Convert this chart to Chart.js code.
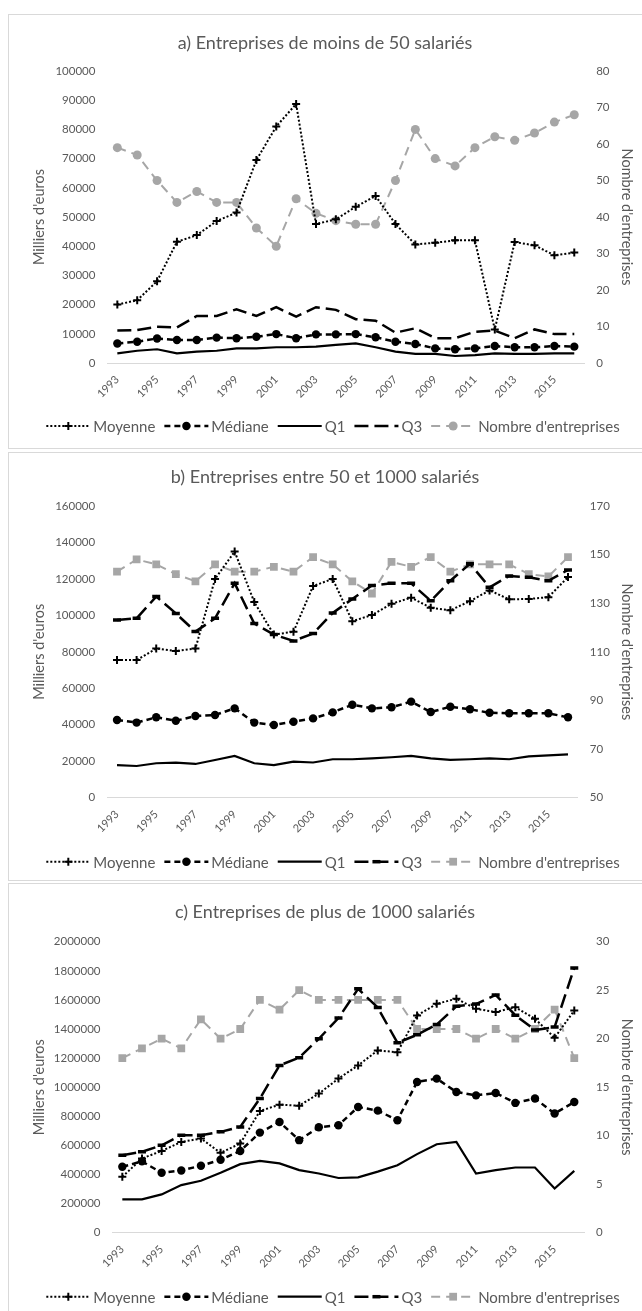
<!DOCTYPE html>
<html>
<head>
<meta charset="utf-8">
<script src="https://cdn.jsdelivr.net/npm/chart.js@4.4.1/dist/chart.umd.min.js"></script>
<style>
html,body{margin:0;padding:0;background:#fff;width:642px;height:1311px;overflow:hidden;position:relative;font-family:Lato,sans-serif}
.box{position:absolute;border:1px solid #d9d9d9;box-sizing:border-box;background:#fff}
canvas{position:absolute;display:block}
</style>
</head>
<body>
<div class="box" style="left:8px;top:14px;width:660px;height:435px"></div>
<div class="box" style="left:8px;top:452px;width:660px;height:429px"></div>
<div class="box" style="left:8px;top:883px;width:660px;height:440px"></div>
<canvas id="ca" width="632" height="433" style="left:9px;top:15px"></canvas>
<canvas id="cb" width="632" height="427" style="left:9px;top:453px"></canvas>
<canvas id="cc" width="632" height="433" style="left:9px;top:884px"></canvas>
<script>
// ---------- categories ----------
const years = ['1993','1994','1995','1996','1997','1998','1999','2000','2001','2002','2003','2004',
               '2005','2006','2007','2008','2009','2010','2011','2012','2013','2014','2015','2016'];
const seriesNames = ['Moyenne', 'Médiane', 'Q1', 'Q3', "Nombre d'entreprises"];
const titleA = 'a) Entreprises de moins de 50 salariés';
const titleB = 'b) Entreprises entre 50 et 1000 salariés';
const titleC = 'c) Entreprises de plus de 1000 salariés';
const leftAxisTitle = "Milliers d'euros";
const rightAxisTitle = "Nombre d'entreprises";

// ---------- a) < 50 salariés ----------
const moyA = [20000, 21500, 28000, 41500, 43800, 48600, 51500, 69500, 81000, 88700, 47600, 49200,
              53500, 57200, 47600, 40600, 41200, 42000, 42000, 11500, 41400, 40300, 36900, 37800];
const medA = [6700, 7300, 8400, 7900, 7900, 8700, 8500, 9000, 9900, 8500, 9800, 9800,
              9900, 8800, 7300, 6500, 5000, 4700, 5000, 5800, 5400, 5400, 5800, 5600];
const q1A  = [3300, 4200, 4700, 3300, 3900, 4200, 5000, 5000, 5400, 5400, 5600, 6200,
              6700, 5400, 3900, 3100, 3100, 2400, 2700, 3300, 3100, 3100, 3300, 3300];
const q3A  = [11100, 11300, 12400, 12200, 16100, 16100, 18400, 16100, 19100, 15900, 19100, 18200,
              15000, 14500, 10400, 11900, 8500, 8500, 10700, 11100, 8500, 11500, 9900, 9900];
const nbA  = [59, 57, 50, 44, 47, 44, 44, 37, 32, 45, 41, 39, 38, 38, 50, 64, 56, 54, 59, 62, 61, 63, 66, 68];
const yTicksA  = [0, 10000, 20000, 30000, 40000, 50000, 60000, 70000, 80000, 90000, 100000];
const y1TicksA = [0, 10, 20, 30, 40, 50, 60, 70, 80];

// ---------- b) 50 - 1000 salariés ----------
const moyB = [75500, 75500, 81800, 80500, 81800, 120000, 135000, 107300, 89500, 91000, 116100, 120000,
              96800, 100200, 106400, 109700, 104200, 102800, 107800, 113700, 108800, 109000, 110000, 121000];
const medB = [42600, 41200, 44100, 42200, 44800, 45400, 49000, 41200, 39900, 41700, 43500, 46800,
              51000, 49000, 49600, 52700, 47000, 49900, 48500, 46600, 46300, 46300, 46300, 44100];
const q1B  = [17900, 17400, 18900, 19200, 18500, 20700, 22900, 18900, 17900, 19800, 19300, 21100,
              21100, 21600, 22200, 22900, 21600, 20700, 21100, 21600, 21100, 22700, 23200, 23800];
const q3B  = [97500, 98400, 110300, 101100, 91100, 98400, 117600, 95500, 89500, 86000, 90000, 101300,
              109000, 116400, 117600, 117600, 108000, 119000, 128300, 115400, 121600, 120900, 119000, 124900];
const nbB  = [143, 148, 146, 142, 139, 146, 143, 143, 145, 143, 149, 146, 139, 134, 147, 145, 149, 143, 146, 146, 146, 142, 141, 149];
const yTicksB  = [0, 20000, 40000, 60000, 80000, 100000, 120000, 140000, 160000];
const y1TicksB = [50, 70, 90, 110, 130, 150, 170];

// ---------- c) > 1000 salariés ----------
const moyC = [384000, 510000, 562000, 624000, 647000, 549000, 613000, 836000, 880000, 873000, 956000, 1059000,
              1150000, 1253000, 1240000, 1493000, 1573000, 1608000, 1539000, 1516000, 1550000, 1470000, 1340000, 1527000];
const medC = [453000, 490000, 412000, 428000, 460000, 501000, 562000, 688000, 761000, 636000, 725000, 739000,
              864000, 839000, 773000, 1036000, 1059000, 967000, 944000, 960000, 892000, 922000, 819000, 898000];
const q1C  = [229000, 229000, 263000, 327000, 357000, 412000, 471000, 494000, 476000, 430000, 407000, 376000,
              380000, 420000, 464000, 540000, 608000, 624000, 407000, 430000, 448000, 448000, 304000, 425000];
const q3C  = [533000, 556000, 601000, 670000, 670000, 693000, 727000, 922000, 1150000, 1203000, 1333000, 1475000,
              1676000, 1547000, 1305000, 1360000, 1431000, 1556000, 1571000, 1634000, 1495000, 1393000, 1413000, 1820000];
const nbC  = [18, 19, 20, 19, 22, 20, 21, 24, 23, 25, 24, 24, 24, 24, 24, 21, 21, 21, 20, 21, 20, 21, 23, 18];
const yTicksC  = [0, 200000, 400000, 600000, 800000, 1000000, 1200000, 1400000, 1600000, 1800000, 2000000];
const y1TicksC = [0, 5, 10, 15, 20, 25, 30];

// ---------- styling ----------
const FONT = 'Lato';
const TXT = '#595959';
const GREY = '#a6a6a6';
Chart.defaults.font.family = FONT;
Chart.defaults.color = TXT;

function drawMarker(ctx, style, x, y, r, fill, stroke, bw) {
  ctx.save();
  ctx.fillStyle = fill; ctx.strokeStyle = stroke; ctx.lineWidth = bw || 1;
  ctx.setLineDash([]);
  ctx.beginPath();
  if (style === 'circle') { ctx.arc(x, y, r, 0, Math.PI * 2); ctx.fill(); }
  else if (style === 'rect') { const s = r * Math.SQRT1_2; ctx.rect(x - s, y - s, 2 * s, 2 * s); ctx.fill(); }
  else if (style === 'cross') { ctx.moveTo(x - r, y); ctx.lineTo(x + r, y); ctx.moveTo(x, y - r); ctx.lineTo(x, y + r); ctx.stroke(); }
  else if (style === 'line') { ctx.moveTo(x - r, y); ctx.lineTo(x + r, y); ctx.stroke(); }
  ctx.restore();
}

// legend drawn with a line sample + marker, like the spreadsheet legend
const lineLegend = {
  id: 'lineLegend',
  afterDraw(chart, args, o) {
    const ctx = chart.ctx;
    const ds = chart.data.datasets;
    ctx.save();
    ctx.font = o.fontSize + 'px ' + FONT;
    const widths = ds.map(d => ctx.measureText(d.label).width);
    const total = widths.reduce((a, w) => a + o.sample + o.gapText + w, 0) + o.gapItem * (ds.length - 1);
    let x = o.center - total / 2;
    const y = o.y;
    ds.forEach((d, i) => {
      ctx.save();
      ctx.strokeStyle = d.borderColor; ctx.lineWidth = d.borderWidth;
      ctx.setLineDash(d.borderDash || []);
      ctx.beginPath(); ctx.moveTo(x, y); ctx.lineTo(x + o.sample, y); ctx.stroke();
      ctx.restore();
      if (d.pointRadius > 0) drawMarker(ctx, d.pointStyle, x + o.sample / 2, y, d.pointRadius,
                                        d.pointBackgroundColor, d.pointBorderColor, d.pointBorderWidth);
      ctx.fillStyle = o.color; ctx.textBaseline = 'middle'; ctx.textAlign = 'left';
      ctx.fillText(d.label, x + o.sample + o.gapText, y + 1);
      x += o.sample + o.gapText + widths[i] + o.gapItem;
    });
    ctx.restore();
  }
};

function buildDatasets(moy, med, q1, q3, nb, p) {
  return [
    { label: seriesNames[0], data: moy, yAxisID: 'y', borderColor: '#000', borderWidth: 2, borderDash: [2, 2],
      pointStyle: 'cross', pointRadius: 4, pointBorderColor: '#000', pointBackgroundColor: '#000', pointBorderWidth: 2 },
    { label: seriesNames[1], data: med, yAxisID: 'y', borderColor: '#000', borderWidth: 2.5, borderDash: [6, 4],
      pointStyle: 'circle', pointRadius: 4.2, pointBorderColor: '#000', pointBackgroundColor: '#000', pointBorderWidth: 0 },
    { label: seriesNames[2], data: q1, yAxisID: 'y', borderColor: '#000', borderWidth: 2.2, borderDash: [],
      pointRadius: 0, pointStyle: 'circle', pointBorderColor: '#000', pointBackgroundColor: '#000', pointBorderWidth: 0 },
    { label: seriesNames[3], data: q3, yAxisID: 'y', borderColor: '#000', borderWidth: 2.5, borderDash: [14, 6],
      pointStyle: 'line', pointRadius: p.q3Marker ? 4 : 0, pointBorderColor: '#000', pointBackgroundColor: '#000', pointBorderWidth: 3.5 },
    { label: seriesNames[4], data: nb, yAxisID: 'y1', borderColor: GREY, borderWidth: 2, borderDash: [9, 6],
      pointStyle: p.nbStyle, pointRadius: p.nbRadius, pointBorderColor: GREY, pointBackgroundColor: GREY, pointBorderWidth: 0 }
  ];
}

function makePanel(id, title, dsets, yTicks, y1Ticks, p) {
  const tickFont = { family: FONT, size: 11.5 };
  new Chart(document.getElementById(id), {
    type: 'line',
    data: { labels: years, datasets: dsets },
    options: {
      responsive: false, animation: false, devicePixelRatio: 1,
      layout: { padding: { left: 0, right: 0, top: 0, bottom: p.padBottom } },
      elements: { line: { tension: 0, fill: false } },
      plugins: {
        legend: { display: false },
        tooltip: { enabled: false },
        title: { display: true, text: title, color: TXT,
                 font: { family: FONT, size: 18, weight: 'normal', lineHeight: 1.2 },
                 padding: { top: p.titleTop, bottom: p.titleBottom } },
        lineLegend: { y: p.legendY, center: 324, fontSize: 15, sample: 44, gapText: 3, gapItem: 9, color: TXT }
      },
      scales: {
        x: {
          type: 'category', offset: true,
          grid: { display: false, drawTicks: false },
          border: { display: true, color: '#d9d9d9', width: 1 },
          ticks: { autoSkip: false, maxRotation: 45, minRotation: 45, padding: 10, color: TXT, font: { family: FONT, size: 11 },
                   callback: function (v, i) { return i % 2 === 0 ? years[i] : ''; } },
          afterFit: s => { s.height = 40; }
        },
        y: {
          position: 'left', min: yTicks[0], max: yTicks[yTicks.length - 1],
          grid: { display: false, drawTicks: false }, border: { display: false },
          afterBuildTicks: s => { s.ticks = yTicks.map(v => ({ value: v })); },
          ticks: { padding: 12, color: TXT, font: tickFont, callback: v => String(v) },
          title: { display: true, text: leftAxisTitle, color: TXT, font: { family: FONT, size: 14.5, lineHeight: 1.2 },
                   padding: { top: 21.3, bottom: 0 } },
          afterFit: s => { s.width = p.leftW; }
        },
        y1: {
          position: 'right', min: y1Ticks[0], max: y1Ticks[y1Ticks.length - 1],
          grid: { display: false, drawTicks: false }, border: { display: false },
          afterBuildTicks: s => { s.ticks = y1Ticks.map(v => ({ value: v })); },
          ticks: { padding: 12, color: TXT, font: tickFont, callback: v => String(v) },
          title: { display: true, text: rightAxisTitle, color: TXT, font: { family: FONT, size: 14.5, lineHeight: 1.2 },
                   padding: { top: 5.3, bottom: 0 } },
          afterFit: s => { s.width = p.rightW; }
        }
      }
    },
    plugins: [lineLegend]
  });
}

makePanel('ca', titleA, buildDatasets(moyA, medA, q1A, q3A, nbA, { q3Marker: false, nbStyle: 'circle', nbRadius: 4.5 }),
  yTicksA, y1TicksA,
  { padBottom: 45, titleTop: 17.2, titleBottom: 17.2, legendY: 411, leftW: 98.4, rightW: 56.8 });
makePanel('cb', titleB, buildDatasets(moyB, medB, q1B, q3B, nbB, { q3Marker: true, nbStyle: 'rect', nbRadius: 5.5 }),
  yTicksB, y1TicksB,
  { padBottom: 42.3, titleTop: 13.2, titleBottom: 18.2, legendY: 408.7, leftW: 98.2, rightW: 63.2 });
makePanel('cc', titleC, buildDatasets(moyC, medC, q1C, q3C, nbC, { q3Marker: true, nbStyle: 'rect', nbRadius: 5.5 }),
  yTicksC, y1TicksC,
  { padBottom: 44.3, titleTop: 16.9, titleBottom: 19.2, legendY: 412.7, leftW: 103.5, rightW: 56.9 });
</script>
</body>
</html>
